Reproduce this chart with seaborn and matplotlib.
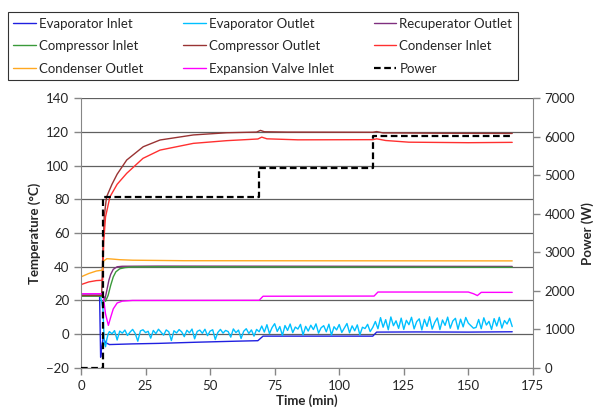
import numpy as np
import pandas as pd
import matplotlib
matplotlib.use("Agg")
import matplotlib.pyplot as plt
import seaborn as sns

# --- data (time in min, temperature in degC, power in W) ---
evap_in_t = [0, 7.2, 7.6, 8.0, 8.6, 9.5, 11, 20, 30, 45, 60, 68.5, 70.5, 113, 114.5, 130, 150, 167]
evap_in_v = [23, 23, -13.7, -8, -2, -5, -6.2, -5.8, -5.5, -4.8, -4.2, -3.9, -1.2, -1.2, 1.2, 1.3, 1.2, 1.4]

evap_out_t = [0, 7.5, 8.5, 9, 9.5, 10, 10.5] + list(range(11, 168))
evap_out_v = [23, 23, 15, -5, -7.5, -3, 0,
              1.5, 0.2, 2.1, -3.5, 1.8, 0.6, 2.4, -0.8, 1.2, 2.8,
              0.4, -4.2, 1.9, 2.6, 0.9, 1.7, -2.4, 2.2, 0.3, 2.9,
              1.1, -0.6, 2.5, 1.4, -3.8, 2.0, 0.7, 2.7, 1.3, -1.5,
              2.3, 0.8, 3.0, -2.8, 1.6, 2.4, 0.5, 2.9, -0.9, 1.8,
              2.6, -3.2, 1.0, 2.8, 0.6, 2.2, 1.5, -1.8, 3.1, 0.9,
              2.4, -2.6, 1.7, 3.2, 0.4, 2.5, -1.2, 2.8, 1.4,
              4.8, 1.2, 5.6, 0.3, 3.9, 6.2, 1.6, 4.5, -0.8, 5.1,
              2.2, 6.0, 0.9, 4.2, 3.0, 5.8, -0.5, 4.6, 1.8, 5.3,
              2.7, 6.1, 0.6, 3.8, 5.0, 1.4, 5.9, -0.6, 4.4, 2.5,
              5.7, 1.0, 3.6, 6.3, 0.8, 4.9, 2.0, 5.5, -0.4, 4.1,
              3.3, 5.8, 1.5, 4.0,
              7.5, 3.2, 9.8, 4.1, 8.6, 2.6, 10.2, 5.0, 7.9, 3.4,
              9.5, 2.8, 8.2, 5.6, 10.0, 3.1, 7.4, 9.1, 2.5, 8.8,
              4.6, 10.3, 3.0, 7.0, 9.6, 2.7, 8.4, 5.2, 10.1, 3.5,
              7.8, 9.4, 2.9, 8.9, 4.3, 9.9,
              6.5, 5.0, 3.5, 4.0,
              8.7, 3.2, 9.7, 5.4, 7.6, 2.8, 9.2, 4.8, 10.0, 3.6, 8.1, 6.0, 9.4, 4.5]

recup_out_t = [0, 8.5, 9.3, 10, 10.8, 11.5, 12.5, 14, 16, 30, 167]
recup_out_v = [23, 23, 21, 26, 32, 35.5, 38.5, 40, 40.3, 40.4, 40.2]

comp_in_t = [0, 8.5, 9.5, 10.5, 11.5, 12.5, 13.5, 15, 17, 20, 30, 167]
comp_in_v = [22.5, 22.5, 19.5, 23, 29, 34, 37, 38.8, 39.5, 39.9, 40, 39.7]

comp_out_t = [0, 8.0, 8.5, 9.0, 9.9, 12, 14, 17.7, 24.1, 30.6, 43.5, 56.4, 68, 69.5, 71, 80, 113, 114.5, 117, 140, 167]
comp_out_v = [23, 23, 50, 70, 81.5, 89, 95, 103.4, 111.3, 115.3, 118.3, 119.6, 120, 121, 120.2, 120, 119.9, 120.3, 119.5, 119.3, 119.2]

cond_in_t = [0, 3, 6, 8.4, 8.8, 9.5, 11.2, 14, 17.7, 24, 30.6, 43.5, 56.4, 68.5, 70, 72, 84, 113, 114.5, 118, 127, 150, 167]
cond_in_v = [29.4, 31, 31.8, 32, 55, 69.6, 81.5, 89, 95.5, 104.4, 109.3, 113.3, 114.9, 115.9, 117, 116, 115.4, 115.5, 116, 115, 114, 113.7, 113.9]

cond_out_t = [0, 3, 6, 8.3, 8.8, 10, 12, 15, 20, 40, 167]
cond_out_v = [34, 36, 37.5, 38, 43.5, 44.8, 44.6, 44.2, 43.9, 43.6, 43.5]

exp_in_t = [0, 8.5, 9.5, 10.6, 11.5, 12.5, 14, 16, 20, 69, 70.5, 113.5, 115, 150, 152, 153.5, 155, 167]
exp_in_v = [24, 24, 12, 5.2, 10, 15, 18.5, 19.6, 20, 20.1, 22.5, 22.6, 25, 25, 24, 22.9, 24.8, 24.8]

power_t = [0, 8.6, 69, 113.2, 166.7]
power_v = [0, 4430, 5200, 6030, 6030]

series = [
    ("Evaporator Inlet", evap_in_t, evap_in_v, "#2020E0"),
    ("Evaporator Outlet", evap_out_t, evap_out_v, "#00C0FF"),
    ("Recuperator Outlet", recup_out_t, recup_out_v, "#7F2F7F"),
    ("Compressor Inlet", comp_in_t, comp_in_v, "#3A9A3A"),
    ("Compressor Outlet", comp_out_t, comp_out_v, "#993333"),
    ("Condenser Inlet", cond_in_t, cond_in_v, "#FF3030"),
    ("Condenser Outlet", cond_out_t, cond_out_v, "#FFA820"),
    ("Expansion Valve Inlet", exp_in_t, exp_in_v, "#FF00FF"),
]

sns.set_style("white")
plt.rcParams['font.family'] = ['Lato', 'DejaVu Sans']
plt.rcParams['font.size'] = 9.5

fig = plt.figure(figsize=(6.09, 4.17), dpi=100)
ax = fig.add_axes([0.133, 0.118, 0.742, 0.646])
ax2 = ax.twinx()

handles = []
for name, t, v, col in series:
    sns.lineplot(x=t, y=v, ax=ax, color=col, lw=1.0, label=name, sort=False, legend=False)
    handles.append(ax.lines[-1])

sns.lineplot(x=power_t, y=power_v, ax=ax2, color="black", lw=1.6, ls=(0, (3, 1.6)),
             drawstyle="steps-post", label="Power", legend=False)
handles.append(ax2.lines[-1])

grey = "#868686"
txt = "#262626"
ax.set_xlim(0, 175)
ax.set_ylim(-20, 140)
ax.set_xticks(range(0, 176, 25))
ax.set_yticks(range(-20, 141, 20))
ax2.set_ylim(0, 7000)
ax2.set_yticks(range(0, 7001, 1000))

ax.grid(axis="y", color="#606060", lw=0.9)
ax.set_axisbelow(True)
for a in (ax, ax2):
    a.spines["top"].set_visible(False)
    for s in ("left", "bottom", "right"):
        a.spines[s].set_color(grey)
    a.tick_params(colors=grey, labelcolor=txt, length=5, width=1, direction="out", labelsize=9.5)
ax2.spines["left"].set_visible(False)
ax2.spines["bottom"].set_visible(False)
ax.spines["right"].set_visible(False)
ax.tick_params(axis="x", bottom=True)
ax.tick_params(axis="y", left=True)
ax2.tick_params(axis="y", right=True)

ax.set_xlabel("Time (min)", fontweight="bold", color=txt, fontsize=9.5, labelpad=2)
ax.set_ylabel("Temperature (°C)", fontweight="bold", color=txt, fontsize=9.5)
ax2.set_ylabel("Power (W)", fontweight="bold", color=txt, fontsize=9.5)

# legend filled row by row like the original
order = [0, 3, 6, 1, 4, 7, 2, 5, 8]
leg = fig.legend([handles[i] for i in order], [handles[i].get_label() for i in order],
                 loc="center", bbox_to_anchor=(0.013, 0.808, 0.837, 0.163),
                 mode="expand", ncol=3, frameon=True, fancybox=False,
                 edgecolor="black", fontsize=9.5, handlelength=1.7, handletextpad=0.25,
                 borderaxespad=0, borderpad=0.4, labelspacing=0.8, labelcolor=txt)
leg.get_frame().set_linewidth(0.8)

fig.savefig("out.png", dpi=100)
